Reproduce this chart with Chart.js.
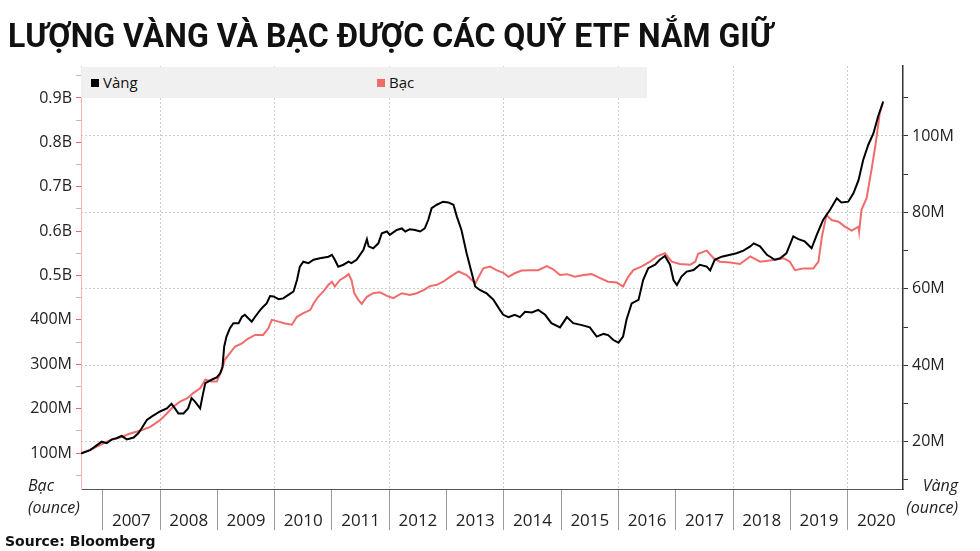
<!DOCTYPE html>
<html>
<head>
<meta charset="utf-8">
<script src="https://cdn.jsdelivr.net/npm/chart.js@4"></script>
<style>
  html, body { margin: 0; padding: 0; background: #fff; }
  #wrap { position: relative; width: 980px; height: 551px; overflow: hidden; background: #fff; }
  #chart { position: absolute; left: 0; top: 0; }
  #title { position: absolute; left: 8px; top: 19px; font-family: Roboto, sans-serif; font-weight: 700;
           font-size: 33px; line-height: 33px; color: #111; white-space: nowrap; transform-origin: 0 0; }
  #legend { position: absolute; left: 81px; top: 67px; width: 566px; height: 31px; background: #f0f0f0;
            font-family: 'Open Sans', sans-serif; font-size: 15px; color: #111; }
  .li { position: absolute; top: 7px; line-height: 17px; white-space: nowrap; }
  .sw { display: inline-block; width: 8px; height: 8px; margin-right: 4px; vertical-align: 1px; }
  .unit { position: absolute; font-family: 'Open Sans', sans-serif; font-style: italic; font-size: 16px;
          line-height: 22px; color: #222; }
  #src { position: absolute; left: 5px; top: 532px; font-family: 'DejaVu Sans', sans-serif; font-weight: 700;
         font-size: 14px; line-height: 18px; color: #111; white-space: nowrap; }
</style>
</head>
<body>
<div id="wrap">
  <canvas id="chart" width="980" height="551"></canvas>
  <div id="title">LƯỢNG VÀNG VÀ BẠC ĐƯỢC CÁC QUỸ ETF NẮM GIỮ</div>
  <div id="legend">
    <div class="li" style="left:10px"><span class="sw" style="background:#000"></span>Vàng</div>
    <div class="li" style="left:296px"><span class="sw" style="background:#f26b6b"></span>Bạc</div>
  </div>
  <div class="unit" style="left:28px; top:474px; text-align:left;">Bạc<br>(ounce)</div>
  <div class="unit" style="right:22px; top:474px; text-align:right;">Vàng<br>(ounce)</div>
  <div id="src">Source: Bloomberg</div>
</div>
<script>
// ---- Data (values in millions of ounces) ----
const seriesNames = ['Vàng', 'Bạc'];

const goldYears = [
  2006.62, 2006.78, 2006.90, 2006.98, 2007.07, 2007.16, 2007.24, 2007.33, 2007.42, 2007.54,
  2007.62, 2007.68, 2007.77, 2007.86, 2008.00, 2008.12, 2008.20, 2008.26, 2008.32, 2008.41,
  2008.49, 2008.55, 2008.61, 2008.70, 2008.74, 2008.79, 2008.90, 2008.99, 2009.05, 2009.09,
  2009.12, 2009.16, 2009.22, 2009.28, 2009.37, 2009.43, 2009.48, 2009.54, 2009.60, 2009.66,
  2009.75, 2009.80, 2009.86, 2009.92, 2009.98, 2010.07, 2010.15, 2010.24, 2010.33, 2010.39,
  2010.44, 2010.50, 2010.59, 2010.68, 2010.79, 2010.94, 2011.00, 2011.05, 2011.11, 2011.20,
  2011.29, 2011.34, 2011.43, 2011.55, 2011.61, 2011.64, 2011.72, 2011.81, 2011.87, 2011.96,
  2012.01, 2012.13, 2012.22, 2012.28, 2012.36, 2012.45, 2012.54, 2012.62, 2012.68, 2012.74,
  2012.83, 2012.94, 2013.03, 2013.12, 2013.18, 2013.26, 2013.35, 2013.44, 2013.50, 2013.58,
  2013.70, 2013.82, 2013.93, 2013.99, 2014.08, 2014.19, 2014.28, 2014.37, 2014.49, 2014.60,
  2014.72, 2014.83, 2014.98, 2015.10, 2015.21, 2015.36, 2015.50, 2015.62, 2015.74, 2015.82,
  2015.91, 2016.00, 2016.08, 2016.14, 2016.23, 2016.35, 2016.43, 2016.52, 2016.64, 2016.72,
  2016.81, 2016.90, 2016.96, 2017.02, 2017.10, 2017.19, 2017.31, 2017.42, 2017.54, 2017.60,
  2017.68, 2017.80, 2017.95, 2018.06, 2018.18, 2018.30, 2018.36, 2018.47, 2018.59, 2018.73,
  2018.82, 2018.93, 2019.05, 2019.14, 2019.25, 2019.37, 2019.46, 2019.57, 2019.69, 2019.81,
  2019.89, 2020.01, 2020.10, 2020.19, 2020.27, 2020.36, 2020.45, 2020.53, 2020.62];
const goldValues = [
  16.9, 17.8, 19.1, 20.0, 19.6, 20.6, 20.9, 21.5, 20.6, 21.1,
  22.2, 23.5, 25.7, 26.6, 27.9, 28.7, 29.9, 28.7, 27.4, 27.4,
  28.7, 31.4, 30.5, 28.7, 31.8, 35.3, 36.2, 36.8, 37.9, 39.6,
  44.9, 47.5, 49.7, 51.0, 51.0, 52.7, 53.2, 52.3, 51.4, 52.7,
  54.5, 55.3, 56.2, 58.1, 58.0, 57.3, 57.5, 58.4, 59.3, 62.3,
  65.8, 67.1, 66.7, 67.6, 68.0, 68.4, 68.9, 67.6, 65.8, 66.3,
  67.1, 66.7, 67.6, 70.2, 73.0, 71.1, 70.6, 71.9, 74.5, 75.0,
  74.1, 75.4, 75.8, 75.0, 75.6, 75.4, 75.0, 75.8, 78.0, 81.1,
  82.0, 82.8, 82.6, 82.0, 78.9, 75.4, 69.3, 64.1, 60.6, 59.7,
  58.8, 57.1, 54.5, 53.2, 52.6, 53.2, 52.6, 54.0, 53.8, 54.5,
  53.2, 51.0, 49.9, 52.6, 51.0, 50.5, 49.9, 47.5, 48.2, 47.9,
  46.6, 45.9, 47.5, 51.9, 56.2, 57.1, 62.3, 65.4, 66.3, 67.6,
  68.6, 66.3, 62.3, 61.0, 63.2, 64.5, 64.9, 66.3, 65.8, 64.8,
  67.6, 68.4, 68.9, 69.3, 70.0, 71.1, 71.9, 71.1, 68.9, 67.6,
  68.0, 69.3, 73.7, 73.0, 72.4, 70.6, 74.1, 78.0, 80.6, 83.7,
  82.6, 82.8, 85.0, 88.5, 93.7, 97.7, 100.7, 105.1, 109.0];

const silverYears = [
  2006.62, 2006.78, 2006.95, 2007.13, 2007.30, 2007.48, 2007.65, 2007.83, 2008.00, 2008.12,
  2008.23, 2008.35, 2008.47, 2008.58, 2008.70, 2008.79, 2008.90, 2008.99, 2009.08, 2009.13,
  2009.22, 2009.31, 2009.43, 2009.54, 2009.66, 2009.80, 2009.89, 2009.95, 2010.07, 2010.18,
  2010.30, 2010.39, 2010.50, 2010.62, 2010.68, 2010.76, 2010.85, 2010.94, 2011.00, 2011.05,
  2011.14, 2011.23, 2011.29, 2011.34, 2011.39, 2011.46, 2011.52, 2011.61, 2011.72, 2011.84,
  2011.96, 2012.07, 2012.22, 2012.36, 2012.48, 2012.60, 2012.71, 2012.83, 2012.94, 2013.06,
  2013.21, 2013.35, 2013.44, 2013.50, 2013.64, 2013.76, 2013.87, 2013.99, 2014.08, 2014.19,
  2014.31, 2014.46, 2014.60, 2014.75, 2014.86, 2014.98, 2015.10, 2015.24, 2015.39, 2015.53,
  2015.68, 2015.82, 2015.97, 2016.08, 2016.17, 2016.26, 2016.40, 2016.55, 2016.67, 2016.81,
  2016.93, 2017.07, 2017.25, 2017.34, 2017.39, 2017.54, 2017.66, 2017.77, 2017.95, 2018.12,
  2018.30, 2018.47, 2018.64, 2018.88, 2018.99, 2019.08, 2019.23, 2019.40, 2019.49, 2019.55,
  2019.63, 2019.72, 2019.84, 2019.95, 2020.07, 2020.19, 2020.20, 2020.24, 2020.33, 2020.42,
  2020.48, 2020.56, 2020.61];
const silverValues = [
  100, 107, 118, 129, 135, 144, 150, 159, 174, 189,
  204, 216, 223, 235, 246, 265, 261, 261, 287, 310,
  325, 340, 347, 358, 366, 366, 381, 400, 396, 392,
  389, 407, 415, 422, 437, 452, 464, 479, 486, 475,
  490, 497, 503, 490, 460, 445, 436, 452, 460, 462,
  454, 449, 460, 456, 460, 467, 476, 479, 486, 497,
  509, 501, 490, 482, 516, 520, 512, 506, 497, 505,
  511, 512, 512, 521, 514, 501, 503, 497, 501, 503,
  494, 486, 484, 475, 497, 512, 520, 531, 543, 550,
  531, 526, 524, 531, 549, 556, 539, 531, 529, 526,
  543, 531, 534, 539, 531, 512, 516, 516, 531, 588,
  636, 625, 621, 610, 601, 610, 599, 648, 674, 742,
  790, 866, 888];

// ---- Tick labels ----
const yearLabels = ['2007','2008','2009','2010','2011','2012','2013','2014','2015','2016','2017','2018','2019','2020'];
const silverTickValues = [100, 200, 300, 400, 500, 600, 700, 800, 900];
const silverTickLabels = ['100M','200M','300M','400M','0.5B','0.6B','0.7B','0.8B','0.9B'];
const goldTickValues = [20, 40, 60, 80, 100];
const goldTickLabels = ['20M','40M','60M','80M','100M'];

// ---- Title fit ----
const t = document.getElementById('title');
t.style.transform = 'scaleX(' + (765 / t.offsetWidth) + ')';

const toPts = (xs, ys) => xs.map((x, i) => ({x: x, y: ys[i]}));

const yearLabelPlugin = {
  id: 'yearLabels',
  afterDraw(chart) {
    const {ctx} = chart;
    const xs = chart.scales.x;
    ctx.save();
    ctx.font = '17px "Open Sans"';
    ctx.fillStyle = '#222';
    ctx.textAlign = 'center';
    ctx.textBaseline = 'middle';
    yearLabels.forEach(lab => {
      ctx.fillText(lab, xs.getPixelForValue(+lab + 0.5), xs.top + 32);
    });
    ctx.restore();
  }
};

Chart.defaults.font.family = "'Open Sans', sans-serif";
Chart.defaults.color = '#222';

new Chart(document.getElementById('chart'), {
  type: 'line',
  data: {
    datasets: [
      { label: seriesNames[0], data: toPts(goldYears, goldValues), yAxisID: 'yG',
        borderColor: '#000', borderWidth: 2, pointRadius: 0, tension: 0 },
      { label: seriesNames[1], data: toPts(silverYears, silverValues), yAxisID: 'yS',
        borderColor: '#f26b6b', borderWidth: 2, pointRadius: 0, tension: 0 }
    ]
  },
  options: {
    responsive: false,
    animation: false,
    devicePixelRatio: 1,
    layout: { padding: { top: 66, left: 0, right: 0, bottom: 0 } },
    plugins: { legend: { display: false }, title: { display: false }, tooltip: { enabled: false } },
    scales: {
      x: {
        type: 'linear', position: 'bottom', min: 2006.621, max: 2020.965,
        afterBuildTicks: s => { s.ticks = yearLabels.map(v => ({value: +v})); },
        afterFit: s => { s.height = 62; },
        ticks: { display: false },
        grid: {
          color: c => (c.tick && c.tick.value % 2 === 0) ? '#cdcdcd' : 'rgba(0,0,0,0)',
          tickColor: '#9a9a9a', tickLength: 41, lineWidth: 1, tickWidth: 1
        },
        border: { color: '#555', width: 1, dash: [2, 2] }
      },
      yS: {
        type: 'linear', position: 'left', min: 18.9, max: 972,
        afterBuildTicks: s => {
          const arr = [];
          for (let v = 50; v <= 950; v += 50) arr.push({value: v});
          s.ticks = arr;
        },
        afterFit: s => { s.width = 81; },
        ticks: {
          padding: 4, font: { size: 16 }, color: '#222',
          callback: v => { const i = silverTickValues.indexOf(v); return i >= 0 ? silverTickLabels[i] : ''; }
        },
        grid: {
          drawOnChartArea: false, tickLength: 5,
          tickColor: c => (c.tick && c.tick.value % 100 === 0) ? '#e8646c' : '#bdbdbd'
        },
        border: { color: '#f6b3b3', width: 1 }
      },
      yG: {
        type: 'linear', position: 'right', min: 7.62, max: 118.3,
        afterBuildTicks: s => {
          const arr = [];
          for (let v = 10; v <= 110; v += 10) arr.push({value: v});
          s.ticks = arr;
        },
        afterFit: s => { s.width = 77; },
        ticks: {
          padding: 4, font: { size: 16 }, color: '#222',
          callback: v => { const i = goldTickValues.indexOf(v); return i >= 0 ? goldTickLabels[i] : ''; }
        },
        grid: {
          tickLength: 5,
          color: c => (c.tick && c.tick.value % 20 === 0) ? '#cdcdcd' : 'rgba(0,0,0,0)',
          tickColor: '#333'
        },
        border: { color: '#333', width: 1.5, dash: [2, 2] }
      }
    }
  },
  plugins: [yearLabelPlugin]
});
</script>
</body>
</html>
